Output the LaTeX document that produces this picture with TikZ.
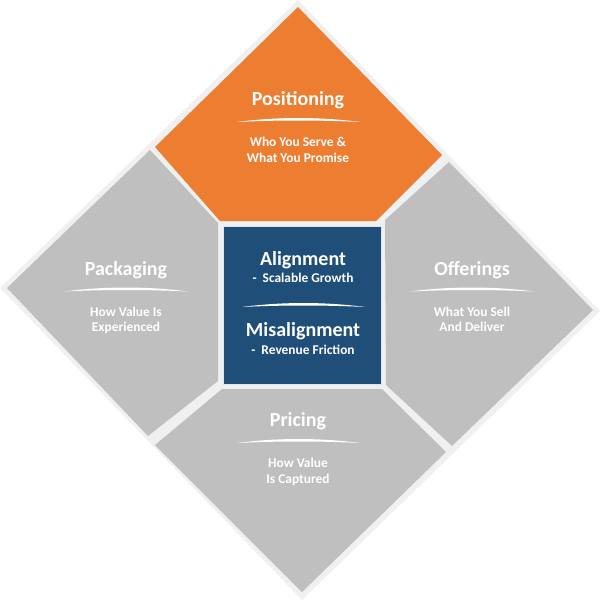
\documentclass[tikz,border=0pt]{standalone}
\usepackage{fontspec}
\setmainfont{Carlito}
\definecolor{orng}{HTML}{ED7D31}
\definecolor{grayp}{HTML}{BFBFBF}
\definecolor{bluec}{HTML}{1F4E79}
\definecolor{bgc}{HTML}{F0F0F0}
\newcommand\myswoosh[3]{%
  \fill[white] (#1,#3) .. controls ({#1+40},{#3-5.3}) and ({#2-40},{#3-5.3}) .. (#2,#3)
     .. controls ({#2-40},{#3-2}) and ({#1+40},{#3-2}) .. cycle;}
\begin{document}
\begin{tikzpicture}[x=0.5pt,y=-0.5pt,
  title/.style={anchor=base,text=white,font=\bfseries\fontsize{10}{12}\selectfont,inner sep=0pt},
  sub/.style={anchor=base,text=white,font=\bfseries\fontsize{6.7}{8}\selectfont,inner sep=0pt},
  piece/.style={fill=grayp}]
\useasboundingbox (0,0) rectangle (600,600);
% background diamond
\fill[bgc] (298,0) -- (600,311) -- (302,600) -- (0,288) -- cycle;
% pieces
\fill[orng] (298,7) -- (442,155) -- (376,221) -- (220,221) -- (155,147) -- cycle;
\fill[piece] (150,150) -- (218,223) -- (218,381) -- (148,436) -- (7,288) -- cycle;
\fill[piece] (449,162) -- (593,310) -- (452,446) -- (386,385) -- (385,220) -- cycle;
\fill[piece] (222,389) -- (382,389) -- (446,452) -- (302,592) -- (155,445) -- cycle;
\fill[bluec, draw=white!85!bluec, line width=0.4pt] (223,226) rectangle (381,384);
% Positioning
\node[title] (postitle) at (298,105) {Positioning};
\myswoosh{237}{360}{122}
\node[sub] (possub1) at (298,146) {Who You Serve \&};
\node[sub] (possub2) at (298,162) {What You Promise};
% Packaging
\node[title] (pactitle) at (126,275) {Packaging};
\myswoosh{64}{188}{291.5}
\node[sub] (pacsub1) at (126,316) {How Value Is};
\node[sub] (pacsub2) at (126,331.7) {Experienced};
% Offerings
\node[title] (offtitle) at (472,275) {Offerings};
\myswoosh{410}{534}{291.5}
\node[sub] (offsub1) at (472,316) {What You Sell};
\node[sub] (offsub2) at (472,331.7) {And Deliver};
% Pricing
\node[title] (prititle) at (298,426.7) {Pricing};
\myswoosh{237}{360}{443}
\node[sub] (prisub1) at (298,467.7) {How Value};
\node[sub] (prisub2) at (298,483.3) {Is Captured};
% Center
\node[title] (aligntitle) at (303,265) {Alignment};
\node[sub] (alignsub) at (303,282.7) {-\ \ Scalable Growth};
\myswoosh{242}{365}{307}
\node[title] (misaligntitle) at (303,336.7) {Misalignment};
\node[sub] (misalignsub) at (303,354) {-\ \ Revenue Friction};
\end{tikzpicture}
\end{document}
